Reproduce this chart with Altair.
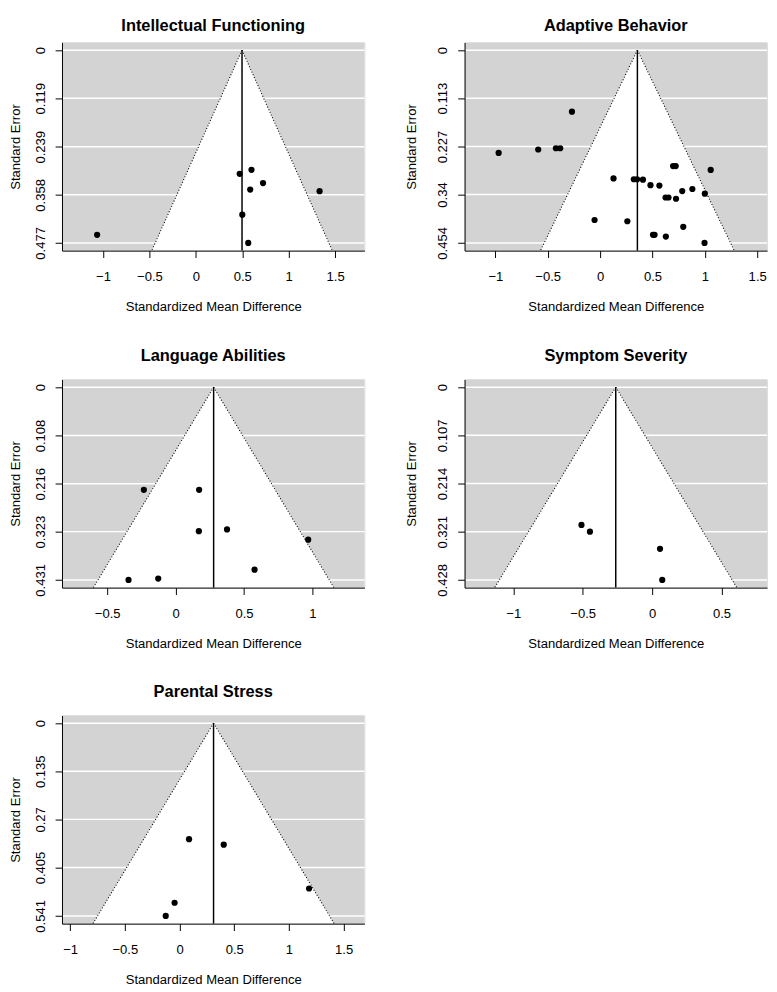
import altair as alt
import pandas as pd

FONT = "Liberation Sans"

# ---- data ----
titles = ["Intellectual Functioning", "Adaptive Behavior", "Language Abilities",
          "Symptom Severity", "Parental Stress"]

if_smd = [-1.063, 0.472, 0.599, 0.723, 0.585, 1.332, 0.500, 0.564]
if_se = [0.457, 0.306, 0.296, 0.329, 0.345, 0.349, 0.407, 0.477]
if_est = 0.497

ab_smd = [-0.269, -0.969, -0.591, -0.422, -0.381, 0.697, 0.722, 1.056, 0.128,
          0.322, 0.353, 0.409, 0.481, 0.566, 0.881, 0.784, 1.000, 0.625, 0.653,
          0.725, -0.053, 0.260, 0.794, 0.505, 0.520, 0.628, 0.997]
ab_se = [0.145, 0.242, 0.234, 0.231, 0.231, 0.273, 0.273, 0.282, 0.302,
         0.304, 0.304, 0.305, 0.318, 0.319, 0.327, 0.332, 0.338, 0.347, 0.347,
         0.350, 0.400, 0.403, 0.416, 0.435, 0.435, 0.439, 0.454]
ab_est = 0.356

la_smd = [-0.232, 0.172, 0.170, 0.376, 0.969, 0.577, -0.344, -0.127]
la_se = [0.2295, 0.2295, 0.322, 0.318, 0.341, 0.408, 0.431, 0.428]
la_est = 0.278

ss_smd = [-0.509, -0.448, 0.057, 0.073]
ss_se = [0.306, 0.321, 0.359, 0.428]
ss_est = -0.262

ps_smd = [0.087, 0.404, 1.184, -0.045, -0.126]
ps_se = [0.3255, 0.341, 0.464, 0.504, 0.541]
ps_est = 0.311

# tick labels
if_yticks = [0, 0.119, 0.239, 0.358, 0.477]
ab_yticks = [0, 0.113, 0.227, 0.34, 0.454]
la_yticks = [0, 0.108, 0.216, 0.323, 0.431]
ss_yticks = [0, 0.107, 0.214, 0.321, 0.428]
ps_yticks = [0, 0.135, 0.27, 0.405, 0.541]

if_xticks = [-1, -0.5, 0, 0.5, 1, 1.5]
ab_xticks = [-1, -0.5, 0, 0.5, 1, 1.5]
la_xticks = [-0.5, 0, 0.5, 1]
ss_xticks = [-1, -0.5, 0, 0.5]
ps_xticks = [-1, -0.5, 0, 0.5, 1, 1.5]

# axis ranges
if_xdom = [-1.441, 1.815]
ab_xdom = [-1.294, 1.594]
la_xdom = [-0.830, 1.380]
ss_xdom = [-1.351, 0.828]
ps_xdom = [-1.074, 1.690]

W, H = 308, 212


def ydomain(ticks):
    m = max(ticks)
    return [-0.04 * m, 1.04 * m]


def panel(title, smd, se, est, xdom, yticks, xticks, title_x, title_gap):
    ydom = ydomain(yticks)
    yb = ydom[1]
    h = 1.96 * yb
    pts = pd.DataFrame({"x": smd, "y": se})
    bg = pd.DataFrame({"x": [xdom[0]], "x2": [xdom[1]], "y": [ydom[0]], "y2": [ydom[1]]})
    grid = pd.DataFrame({"y": yticks})
    tri = pd.DataFrame({"y": [0, yb], "x": [est, est - h], "x2": [est, est + h]})
    vline = pd.DataFrame({"x": [est], "y": [0], "y2": [yb]})
    edges = pd.DataFrame({"x": [est, est], "y": [0, 0],
                          "x2": [est - h, est + h], "y2": [yb, yb]})
    ttl = pd.DataFrame({"t": [title]})

    xaxis = alt.Axis(values=xticks, format=".2~g", grid=False, zindex=1,
                     domainColor="black", domainWidth=1,
                     tickColor="black", tickWidth=1, tickSize=7,
                     labelFont=FONT, labelFontSize=13.3, labelColor="black",
                     labelBaseline="alphabetic", labelPadding=23,
                     labelFlush=False, labelOverlap=False,
                     title="Standardized Mean Difference", titleFont=FONT,
                     titleFontSize=13.3, titleFontWeight="normal",
                     titleColor="black", titleBaseline="alphabetic", titleY=61)
    yaxis = alt.Axis(values=yticks, format=".3~g", grid=False, zindex=1,
                     domainColor="black", domainWidth=1,
                     tickColor="black", tickWidth=1, tickSize=7,
                     labelFont=FONT, labelFontSize=13.3, labelColor="black",
                     labelAngle=270, labelAlign="center",
                     labelBaseline="alphabetic", labelPadding=11,
                     labelFlush=False, labelOverlap=False,
                     title="Standard Error", titleFont=FONT, titleFontSize=13.3,
                     titleFontWeight="normal", titleColor="black",
                     titleAngle=270, titleAlign="center",
                     titleBaseline="alphabetic", titleX=title_x, titleY=H / 2)

    X = alt.X("x:Q", scale=alt.Scale(domain=xdom, nice=False, zero=False), axis=xaxis)
    Y = alt.Y("y:Q", scale=alt.Scale(domain=ydom, nice=False, zero=False, reverse=True),
              axis=yaxis)

    back = alt.Chart(bg).mark_rect(color="#D3D3D3", opacity=1).encode(
        x=X, x2="x2:Q", y=Y, y2="y2:Q")
    glines = alt.Chart(grid).mark_rule(color="white", strokeWidth=1.5).encode(y=Y)
    area = alt.Chart(tri).mark_area(orient="horizontal", color="white", opacity=1).encode(
        x=X, x2="x2:Q", y=Y)
    edge = alt.Chart(edges).mark_rule(color="black", strokeWidth=1.1, strokeDash=[1, 2]).encode(
        x=X, x2="x2:Q", y=Y, y2="y2:Q")
    vrule = alt.Chart(vline).mark_rule(color="black", strokeWidth=1.5).encode(
        x=X, y=Y, y2="y2:Q")
    dots = alt.Chart(pts).mark_circle(color="black", opacity=1, size=40).encode(x=X, y=Y)
    head = alt.Chart(ttl).mark_text(font=FONT, fontSize=16.7, fontWeight="bold",
                                    color="black", align="center",
                                    baseline="alphabetic").encode(
        text="t:N", x=alt.value(W / 2), y=alt.value(-title_gap))

    return alt.layer(back, glines, area, edge, vrule, dots, head).properties(
        width=W, height=H)


p1 = panel(titles[0], if_smd, if_se, if_est, if_xdom, if_yticks, if_xticks, -43.5, 12)
p2 = panel(titles[1], ab_smd, ab_se, ab_est, ab_xdom, ab_yticks, ab_xticks, -50, 12)
p3 = panel(titles[2], la_smd, la_se, la_est, la_xdom, la_yticks, la_xticks, -43.5, 18.5)
p4 = panel(titles[3], ss_smd, ss_se, ss_est, ss_xdom, ss_yticks, ss_xticks, -50, 18.5)
p5 = panel(titles[4], ps_smd, ps_se, ps_est, ps_xdom, ps_yticks, ps_xticks, -43.5, 18.5)

row1 = alt.hconcat(p1, p2, spacing=38)
row2 = alt.hconcat(p3, p4, spacing=38)
lower = alt.vconcat(row2, p5, spacing=34.2)

chart = alt.vconcat(row1, lower, spacing=35.2).properties(padding=0).configure_view(
    strokeWidth=0).configure(font=FONT, background="white")

chart.save("out.html", embed_options={"renderer": "svg", "actions": False})
